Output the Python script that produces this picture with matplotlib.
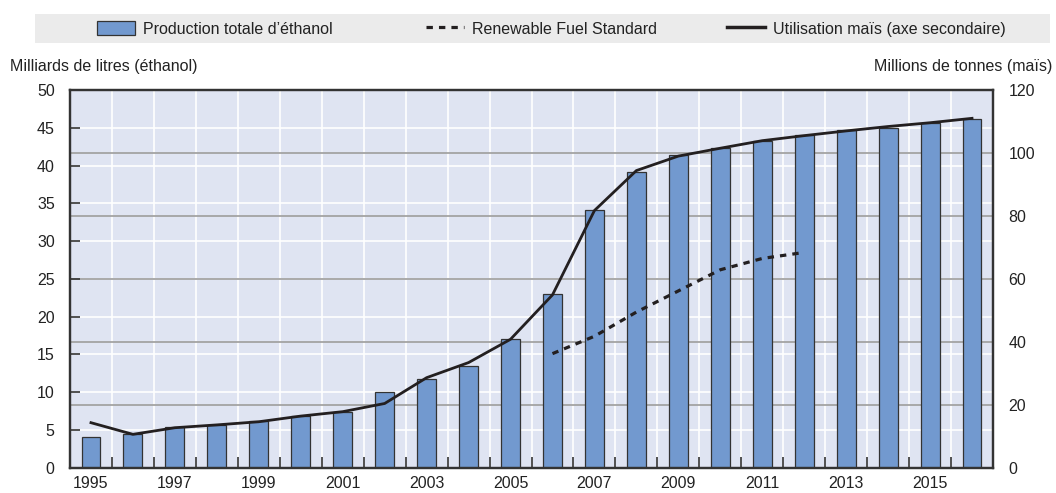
import matplotlib
matplotlib.use("Agg")
import matplotlib.pyplot as plt
from matplotlib.patches import Rectangle, Patch
from matplotlib.lines import Line2D
import numpy as np

plt.rcParams['font.family'] = ['Liberation Sans', 'DejaVu Sans']

years = list(range(1995, 2017))
ethanol = [4.1, 4.5, 5.4, 5.65, 6.2, 6.8, 7.4, 10.0, 11.75, 13.5, 17.1, 22.95,
           34.15, 39.2, 41.45, 42.3, 43.3, 44.1, 44.7, 45.0, 45.6, 46.2]
corn = [14.3, 10.6, 12.7, 13.6, 14.6, 16.4, 17.8, 20.4, 28.6, 33.4, 40.8, 54.9,
        81.7, 94.4, 99.0, 101.5, 103.9, 105.5, 107.0, 108.4, 109.6, 111.0]
rfs_years = [2006, 2007, 2008, 2009, 2010, 2011, 2012]
rfs = [15.1, 17.4, 20.6, 23.4, 26.2, 27.7, 28.5]
left_ticks = [0, 5, 10, 15, 20, 25, 30, 35, 40, 45, 50]
right_ticks = [0, 20, 40, 60, 80, 100, 120]
xlabel_years = [1995, 1997, 1999, 2001, 2003, 2005, 2007, 2009, 2011, 2013, 2015]

W, H = 1056, 493
fig = plt.figure(figsize=(W / 100, H / 100), dpi=100)
ax = fig.add_axes([70 / W, 1 - 467.7 / H, (993 - 70) / W, (467.7 - 90) / H])
ax2 = ax.twinx()

bg = '#dfe4f2'
bar_c = '#7299cf'
dark = '#231f20'
spine_c = '#333333'
txt_c = '#222222'
fs = 11.5

ax.set_facecolor(bg)
x = np.arange(len(years))
ax.set_xlim(-0.5, len(years) - 0.5)
ax.set_ylim(0, 50)
ax2.set_ylim(0, 120)

# gridlines
for t in left_ticks[1:-1]:
    ax.axhline(t, color='white', lw=1.2, zorder=0.5)
for b in np.arange(0.5, len(years) - 0.5, 1):
    ax.axvline(b, color='white', lw=1.2, zorder=0.5)
for t in right_ticks[1:-1]:
    ax.axhline(t * 50 / 120, color='#a3a3a3', lw=1.3, zorder=0.6)

ax.bar(x, ethanol, width=0.45, color=bar_c, edgecolor=spine_c, linewidth=0.9, zorder=2)
rx = [years.index(y) for y in rfs_years]
ax.plot(rx, rfs, color=dark, lw=2.3, linestyle=(0, (2.0, 1.9)), zorder=3)
ax2.plot(x, corn, color=dark, lw=2.0, zorder=3)

# ticks
ax.set_yticks(left_ticks)
ax.tick_params(axis='y', direction='in', length=7.5, width=1.2, color=spine_c,
               labelsize=fs, pad=11, labelcolor=txt_c)
ax2.set_yticks(right_ticks)
ax2.tick_params(axis='y', direction='in', length=0, labelsize=fs, pad=11,
                labelcolor=txt_c)
ax.set_xticks([years.index(y) for y in xlabel_years])
ax.set_xticklabels([str(y) for y in xlabel_years])
ax.set_xticks(np.arange(0.5, len(years) - 0.5, 1), minor=True)
ax.tick_params(axis='x', which='major', length=0, labelsize=fs, pad=6,
               labelcolor=txt_c)
ax.tick_params(axis='x', which='minor', direction='in', length=8, width=1.2,
               color=spine_c)

for a in (ax, ax2):
    for s in a.spines.values():
        s.set_color(spine_c)
        s.set_linewidth(1.6)

# axis titles
fig.text(10 / W, 1 - 66 / H, 'Milliards de litres (éthanol)', ha='left', va='center',
         fontsize=fs, color=txt_c)
fig.text(1052 / W, 1 - 66 / H, 'Millions de tonnes (maïs)', ha='right', va='center',
         fontsize=fs, color=txt_c)

# legend background
fig.patches.append(Rectangle((35 / W, 1 - 43 / H), (1050 - 35) / W, 29 / H,
                             transform=fig.transFigure, facecolor='#ebebeb',
                             edgecolor='none', zorder=0))
handles = [
    (Patch(facecolor=bar_c, edgecolor=spine_c, linewidth=0.9), 'Production totale d’éthanol', 97),
    (Line2D([], [], color=dark, lw=2.3, linestyle=(0, (2.0, 1.9))), 'Renewable Fuel Standard', 426),
    (Line2D([], [], color=dark, lw=2.5), 'Utilisation maïs (axe secondaire)', 727),
]
for h, lab, px in handles:
    fig.legend([h], [lab], loc='center left', bbox_to_anchor=(px / W, 1 - 29 / H),
               frameon=False, fontsize=fs, handlelength=2.4, handleheight=1.0,
               handletextpad=0.5, borderpad=0, borderaxespad=0,
               labelcolor=txt_c)

fig.savefig('out.png', dpi=100)
